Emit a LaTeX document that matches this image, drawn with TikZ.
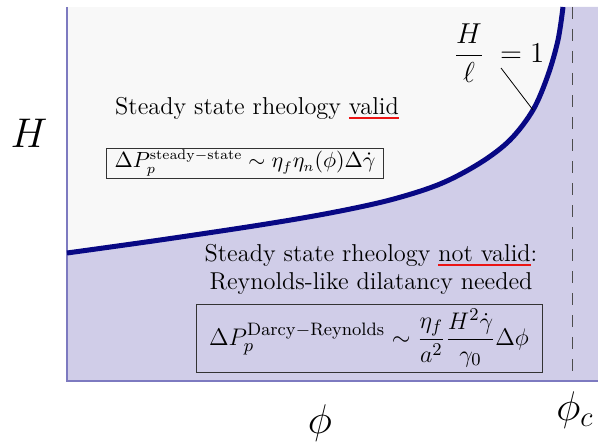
\documentclass[tikz,border=0pt]{standalone}
\usepackage{amsmath}
\usetikzlibrary{positioning}

\definecolor{bggray}{RGB}{248,248,248}
\definecolor{lowfill}{RGB}{208,205,232}
\definecolor{axiscol}{RGB}{125,122,192}
\definecolor{curvecol}{RGB}{8,8,132}
\definecolor{ulred}{RGB}{235,20,20}

\newcommand{\redul}[1]{\leavevmode\setbox0\hbox{#1}\rlap{\textcolor{ulred}{\rule[-2.3pt]{\wd0}{0.7pt}}}\box0}

\begin{document}
\begin{tikzpicture}[x=0.5pt,y=-0.5pt,>=stealth,
	font=\fontsize{12.2}{14}\selectfont,
	eqbox/.style={draw=black!80,fill=none},
	bigsym/.style={font=\fontsize{22}{26}\selectfont}]
	
	%----------------------
	% Parameters
	%----------------------
	\def\xL{67}    % left axis
	\def\xR{598}   % right edge
	\def\yT{7}     % top edge
	\def\yB{381}   % bottom axis
	\def\xc{572}   % phi_c
	
	\useasboundingbox (0,0) rectangle (598,444);
	
	% boundary H = ell
	\def\boundary{plot[smooth,tension=0.55] coordinates {(67,253) (160,240) (260,225) (330,213) (390,200) (440,184) (480,163) (510,140) (533,110) (548,75) (558,40) (563,7)}}
	
	% upper region
	\fill[bggray] (\xL,\yT) rectangle (\xR,\yB);
	
	% lower region
	\fill[lowfill] \boundary -- (\xR,\yT) -- (\xR,\yB) -- (\xL,\yB) -- cycle;
	
	% phi_c
	\draw[black!70,dash pattern=on 6pt off 5pt] (\xc,\yT) -- (\xc,\yB);
	
	% axes
	\draw[axiscol,line width=1pt] (\xL,\yT) -- (\xL,\yB) -- (\xR,\yB);
	
	% the curve
	\draw[curvecol,line width=2.5pt] \boundary;
	
	%----------------------
	% Labels
	%----------------------
	\node[bigsym] (Hlab) at (29,133) {$H$};
	\node[bigsym] (philab) at (320,423) {$\phi$};
	\node[bigsym] (phiclab) at (575,410) {$\phi_c$};
	
	\node[font=\fontsize{13.8}{16}\selectfont] (ratio) at (499,53) {$\dfrac{H}{\ell}\;=1$};
	\coordinate (lead) at (501,68);
	\coordinate (touch) at (533,110);
	\draw[line width=0.4pt] (lead) -- (touch);
	
	\node (validtxt) at (257,108) {Steady state rheology \redul{valid}};
	\node[eqbox,font=\fontsize{10.6}{12}\selectfont,inner xsep=4pt,inner ysep=1pt] (ssbox) at (245,163)
	{$\Delta P_p^{\mathrm{steady-state}} \sim \eta_f\eta_n(\phi)\Delta\dot{\gamma}$};
	
	\node[align=center] (notvalidtxt) at (371,269)
	{Steady state rheology \redul{not valid}:\\ Reynolds-like dilatancy needed};
	\node[eqbox,inner xsep=6.5pt,inner ysep=2.6pt] (drbox) at (369,338)
	{$\displaystyle \Delta P_p^{\mathrm{Darcy-Reynolds}} \sim \frac{\eta_f}{a^2}\frac{H^2\dot{\gamma}}{\gamma_0}\Delta\phi$};
	
\end{tikzpicture}
\end{document}
